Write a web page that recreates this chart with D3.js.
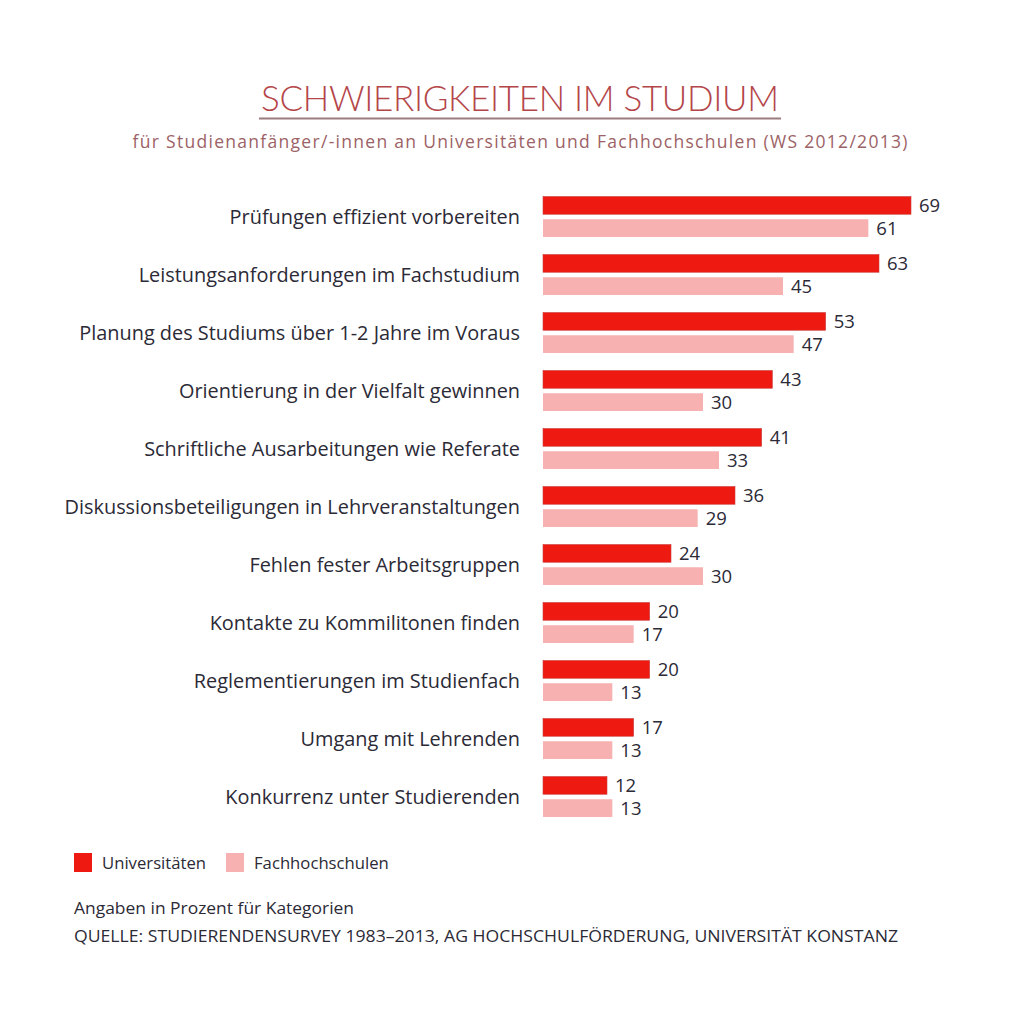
<!DOCTYPE html>
<html><head><meta charset="utf-8">
<script src="https://cdn.jsdelivr.net/npm/d3@7"></script>
<style>
html,body{margin:0;padding:0;background:#fff;}
svg{display:block;font-family:"Open Sans", Lato, sans-serif;}
</style></head>
<body>
<svg id="chart" width="1024" height="1024"></svg>
<script>
const categories = [
  "Prüfungen effizient vorbereiten",
  "Leistungsanforderungen im Fachstudium",
  "Planung des Studiums über 1-2 Jahre im Voraus",
  "Orientierung in der Vielfalt gewinnen",
  "Schriftliche Ausarbeitungen wie Referate",
  "Diskussionsbeteiligungen in Lehrveranstaltungen",
  "Fehlen fester Arbeitsgruppen",
  "Kontakte zu Kommilitonen finden",
  "Reglementierungen im Studienfach",
  "Umgang mit Lehrenden",
  "Konkurrenz unter Studierenden"
];
const universitaeten = [69, 63, 53, 43, 41, 36, 24, 20, 20, 17, 12];
const fachhochschulen = [61, 45, 47, 30, 33, 29, 30, 17, 13, 13, 13];
const seriesNames = ["Universitäten", "Fachhochschulen"];
const title = "SCHWIERIGKEITEN IM STUDIUM";
const subtitle = "für Studienanfänger/-innen an Universitäten und Fachhochschulen (WS 2012/2013)";
const note = "Angaben in Prozent für Kategorien";
const source = "QUELLE: STUDIERENDENSURVEY 1983–2013, AG HOCHSCHULFÖRDERUNG, UNIVERSITÄT KONSTANZ";

const colors = ["#ee1a12", "#f7b1b1"];
const textColor = "#2b2a36";
const svg = d3.select("#chart");

const x = d3.scaleLinear().domain([0, 75]).range([543, 943]);
const y = d3.scaleBand().domain(categories).range([190.5, 828.5]).paddingInner(0).paddingOuter(0);
const sub = d3.scaleBand().domain(seriesNames).range([6, 46.5]).paddingInner(0.22).paddingOuter(0);

// Title
svg.append("text").attr("x", 520).attr("y", 111).attr("text-anchor", "middle")
  .style("font-family", "Lato, sans-serif").attr("font-weight", 300)
  .attr("font-size", 35).attr("fill", "#b4464a")
  .attr("textLength", 518).attr("lengthAdjust", "spacing").text(title);
svg.append("line").attr("x1", 259).attr("x2", 781).attr("y1", 118.5).attr("y2", 118.5)
  .attr("stroke", "#9a7c80").attr("stroke-width", 2);
svg.append("text").attr("x", 520).attr("y", 148).attr("text-anchor", "middle")
  .attr("font-size", 17.5).attr("fill", "#9c6266")
  .attr("textLength", 775).attr("lengthAdjust", "spacing").text(subtitle);

const g = svg.append("g");
const groups = g.selectAll("g.grp").data(categories).join("g").attr("class", "grp")
  .attr("transform", d => `translate(0,${y(d)})`);

groups.append("text").attr("x", 520).attr("y", (sub.range()[0] + sub.range()[1]) / 2)
  .attr("dy", "0.35em").attr("text-anchor", "end").attr("font-size", 19.9).attr("fill", textColor)
  .text(d => d);

const seriesData = [universitaeten, fachhochschulen];
seriesNames.forEach((s, si) => {
  groups.append("rect")
    .attr("x", x(0)).attr("y", sub(s))
    .attr("width", (d, i) => x(seriesData[si][i]) - x(0))
    .attr("height", sub.bandwidth())
    .attr("fill", colors[si])
    .attr("stroke", si === 0 ? "#c8403c" : "none").attr("stroke-width", si === 0 ? 0.6 : 0);
  groups.append("text")
    .attr("x", (d, i) => x(seriesData[si][i]) + 8)
    .attr("y", sub(s) + sub.bandwidth() / 2).attr("dy", "0.38em")
    .attr("font-size", 18.5).attr("fill", textColor)
    .text((d, i) => seriesData[si][i]);
});

// Legend
const legX = [74, 226];
seriesNames.forEach((s, i) => {
  svg.append("rect").attr("x", legX[i]).attr("y", 853).attr("width", 18).attr("height", 19).attr("fill", colors[i]);
  svg.append("text").attr("x", legX[i] + 28).attr("y", 863).attr("dy", "0.35em")
    .attr("font-size", 16.7).attr("fill", textColor).text(s);
});

svg.append("text").attr("x", 74).attr("y", 914).attr("font-size", 15.5).attr("fill", textColor)
  .attr("textLength", 280).attr("lengthAdjust", "spacingAndGlyphs").text(note);
svg.append("text").attr("x", 74).attr("y", 942).attr("font-size", 15.5).attr("fill", textColor)
  .attr("textLength", 824).attr("lengthAdjust", "spacingAndGlyphs").text(source);
</script>
</body></html>
